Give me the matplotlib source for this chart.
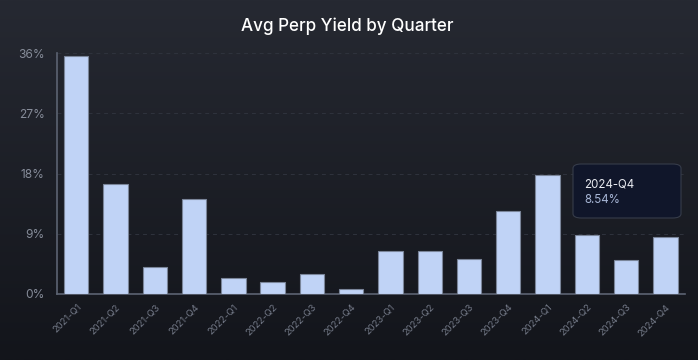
import numpy as np
import matplotlib
matplotlib.use("Agg")
import matplotlib.pyplot as plt
from matplotlib.patches import FancyBboxPatch
from matplotlib.ticker import FuncFormatter

quarters = ["2021-Q1", "2021-Q2", "2021-Q3", "2021-Q4",
            "2022-Q1", "2022-Q2", "2022-Q3", "2022-Q4",
            "2023-Q1", "2023-Q2", "2023-Q3", "2023-Q4",
            "2024-Q1", "2024-Q2", "2024-Q3", "2024-Q4"]
yield_pct = [35.5, 16.4, 4.1, 14.25,
             2.45, 1.75, 3.05, 0.75,
             6.35, 6.45, 5.2, 12.35,
             17.8, 8.75, 5.05, 8.54]
y_ticks = [0, 9, 18, 27, 36]
tooltip_label = "2024-Q4"
tooltip_value = "8.54%"

plt.rcParams['font.family'] = ['Inter', 'DejaVu Sans']

fig = plt.figure(figsize=(6.98, 3.6), dpi=100)

# background gradient
bg = fig.add_axes([0, 0, 1, 1], zorder=-10)
grad = np.linspace(0, 1, 256).reshape(-1, 1)
top = np.array([0x26, 0x29, 0x32]) / 255
bot = np.array([0x13, 0x15, 0x1b]) / 255
img = top[None, None, :] * (1 - grad[:, :, None]) + bot[None, None, :] * grad[:, :, None]
bg.imshow(img, aspect='auto', extent=[0, 1, 0, 1])
bg.set_axis_off()

ax = fig.add_axes([57/698, 66/360, 628/698, 241/360])
ax.set_facecolor('none')
x = np.arange(len(quarters))
ax.bar(x, yield_pct, width=0.62, color='#c0d3f6', edgecolor='#7a8599', linewidth=0.8, zorder=3)

ax.set_xlim(-0.49, len(quarters) - 0.5)
ax.set_ylim(0, 36)
ax.set_yticks(y_ticks)
ax.yaxis.set_major_formatter(FuncFormatter(lambda v, p: f"{int(v)}%"))
ax.grid(axis='y', color='#2f333d', linestyle=(0, (4, 4)), linewidth=0.7, zorder=0)
ax.set_xticks(x)
ax.set_xticklabels(quarters, rotation=45, ha='right', va='top', rotation_mode='anchor')
ax.tick_params(axis='x', length=0, pad=6, labelsize=6.8, colors='#737987')
ax.tick_params(axis='y', length=0, pad=9, labelsize=8.6, colors='#868c99')

for s in ['top', 'right']:
    ax.spines[s].set_visible(False)
for s in ['left', 'bottom']:
    ax.spines[s].set_color('#5c6372')
    ax.spines[s].set_linewidth(1.2)

fig.text(0.497, 0.928, "Avg Perp Yield by Quarter", ha='center', va='center',
         fontsize=12.3, fontweight='medium', color='#ffffff')

# tooltip
box = FancyBboxPatch((573/698, (360-218)/360), 108/698, 54/360,
                     boxstyle="round,pad=0,rounding_size=0.012",
                     transform=fig.transFigure, facecolor='#10162a',
                     edgecolor='#363c4a', linewidth=0.8, zorder=20)
fig.add_artist(box)
fig.text(584/698, (360-184)/360, tooltip_label, ha='left', va='center',
         fontsize=8.3, color='#e8eaf0', zorder=21)
fig.text(584/698, (360-200)/360, tooltip_value, ha='left', va='center',
         fontsize=8.3, color='#a7b6d6', zorder=21)

fig.savefig("out.png", dpi=100)
